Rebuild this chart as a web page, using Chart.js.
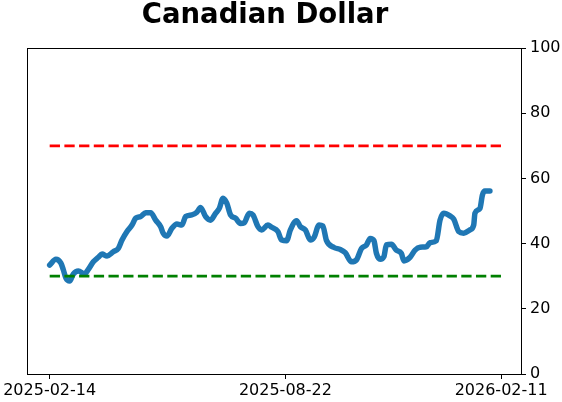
<!DOCTYPE html>
<html>
<head>
<meta charset="utf-8">
<script src="https://cdn.jsdelivr.net/npm/chart.js@4/dist/chart.umd.min.js"></script>
<style>
  html, body { margin: 0; padding: 0; background: #fff; }
  #wrap { width: 562px; height: 402px; }
</style>
</head>
<body>
<div id="wrap"><canvas id="mycanvas" width="562" height="402"></canvas></div>
<script>
// values
var dates = [
  "2025-02-14","2025-02-19","2025-02-23","2025-02-25","2025-02-27","2025-03-02","2025-03-05","2025-03-09",
  "2025-03-14","2025-03-17","2025-03-21","2025-03-25","2025-03-28","2025-04-01","2025-04-06","2025-04-10",
  "2025-04-13","2025-04-17","2025-04-21","2025-04-24","2025-04-28","2025-05-02","2025-05-06","2025-05-10",
  "2025-05-14","2025-05-16","2025-05-19","2025-05-23","2025-05-27","2025-05-31","2025-06-03","2025-06-08",
  "2025-06-12","2025-06-15","2025-06-19","2025-06-23","2025-06-27","2025-06-30","2025-07-03","2025-07-06",
  "2025-07-09","2025-07-13","2025-07-17","2025-07-20","2025-07-24","2025-07-27","2025-07-31","2025-08-03",
  "2025-08-08","2025-08-11","2025-08-16","2025-08-19","2025-08-23","2025-08-26","2025-08-31","2025-09-03",
  "2025-09-07","2025-09-11","2025-09-14","2025-09-18","2025-09-21","2025-09-24","2025-09-30","2025-10-05",
  "2025-10-09","2025-10-14","2025-10-18","2025-10-22","2025-10-26","2025-10-29","2025-11-01","2025-11-03",
  "2025-11-06","2025-11-09","2025-11-11","2025-11-15","2025-11-19","2025-11-23","2025-11-25","2025-11-30",
  "2025-12-04","2025-12-08","2025-12-13","2025-12-16","2025-12-21","2025-12-24","2025-12-27","2026-01-01",
  "2026-01-04","2026-01-08","2026-01-12","2026-01-17","2026-01-20","2026-01-21","2026-01-25","2026-01-27",
  "2026-01-29","2026-02-02"
];
var values = [
  33.4,35.2,34.0,31.9,29.4,28.5,30.7,31.6,
  30.7,32.1,34.4,35.8,36.8,36.2,37.5,38.5,
  41.1,43.7,45.7,47.8,48.3,49.5,49.5,47.2,
  45.2,43.2,42.3,44.7,46.0,45.7,48.3,48.8,
  49.6,51.1,48.3,47.2,49.3,50.8,53.9,52.4,
  48.8,47.8,46.2,46.4,49.3,48.8,45.2,44.2,
  45.7,45.0,43.7,41.1,40.9,44.2,47.0,45.2,
  44.2,41.1,41.9,45.7,45.4,40.9,38.8,38.2,
  37.2,34.4,35.0,38.5,39.6,41.6,40.9,37.0,
  35.2,36.0,39.6,39.8,38.0,37.0,34.7,35.8,
  38.0,38.9,39.0,40.3,40.9,47.2,49.3,48.5,
  47.5,43.7,43.2,44.2,45.7,49.3,50.8,54.9,
  56.1,56.1
];
var upperLevel = 70;
var lowerLevel = 30;
var levelDates = ["2025-02-14", "2026-02-11"];
var tickDates = ["2025-02-14", "2025-08-22", "2026-02-11"];
var title = "Canadian Dollar";

var origin = Date.UTC(2025, 1, 14);
function dayOf(s) {
  var p = s.split("-");
  return (Date.UTC(+p[0], +p[1] - 1, +p[2]) - origin) / 86400000;
}

var points = [];
for (var i in dates) {
  points.push({x: dayOf(dates[i]), y: values[i]});
}
var tickDays = tickDates.map(dayOf);
var levelStart = dayOf(levelDates[0]), levelEnd = dayOf(levelDates[1]);
// matplotlib style 5% margins around the level lines
var span = levelEnd - levelStart;

var frame = {
  id: "frame",
  afterDraw: function(chart) {
    var c = chart.ctx, a = chart.chartArea;
    c.save();
    c.strokeStyle = "#000";
    c.lineWidth = 1;
    c.strokeRect(Math.round(a.left) + 0.5, Math.round(a.top) + 0.5,
                 Math.round(a.right - a.left), Math.round(a.bottom - a.top));
    c.fillStyle = "#000";
    c.font = "bold 27.5px 'DejaVu Sans'";
    c.textAlign = "center";
    c.textBaseline = "alphabetic";
    c.fillText(title, 265, 23);
    c.restore();
  }
};

var ctx = document.getElementById("mycanvas");
var chart = new Chart(ctx, {
  type: "line",
  data: {
    datasets: [
      {
        data: [{x: levelStart, y: upperLevel}, {x: levelEnd, y: upperLevel}],
        borderColor: "#ff0000",
        borderWidth: 2.8,
        borderDash: [10.3, 4.4],
        pointRadius: 0
      },
      {
        data: [{x: levelStart, y: lowerLevel}, {x: levelEnd, y: lowerLevel}],
        borderColor: "#008000",
        borderWidth: 2.8,
        borderDash: [10.3, 4.4],
        pointRadius: 0
      },
      {
        data: points,
        borderColor: "#1f77b4",
        borderWidth: 5.5,
        borderCapStyle: "round",
        borderJoinStyle: "round",
        cubicInterpolationMode: "monotone",
        pointRadius: 0
      }
    ]
  },
  options: {
    responsive: false,
    animation: false,
    layout: { padding: { left: 26, top: 48, right: 0, bottom: 0 } },
    plugins: { legend: { display: false }, tooltip: { enabled: false } },
    scales: {
      x: {
        type: "linear",
        min: levelStart - span * 0.05,
        max: levelEnd + span * 0.044,
        afterBuildTicks: function(axis) {
          axis.ticks = tickDays.map(function(v) { return {value: v}; });
        },
        afterFit: function(axis) { axis.height = 28; },
        grid: { drawOnChartArea: false, color: "#000", tickLength: 5, tickWidth: 1 },
        border: { display: false },
        ticks: {
          autoSkip: false,
          maxRotation: 0,
          padding: 2,
          color: "#000",
          font: { family: "'DejaVu Sans'", size: 16 },
          callback: function(v) {
            var k = tickDays.indexOf(v);
            return k >= 0 ? tickDates[k] : "";
          }
        }
      },
      y: {
        position: "right",
        min: 0,
        max: 100,
        afterFit: function(axis) { axis.width = 41; },
        grid: { drawOnChartArea: false, color: "#000", tickLength: 5, tickWidth: 1 },
        border: { display: false },
        ticks: {
          stepSize: 20,
          padding: 4,
          color: "#000",
          font: { family: "'DejaVu Sans'", size: 16 }
        }
      }
    }
  },
  plugins: [frame]
});
</script>
</body>
</html>
